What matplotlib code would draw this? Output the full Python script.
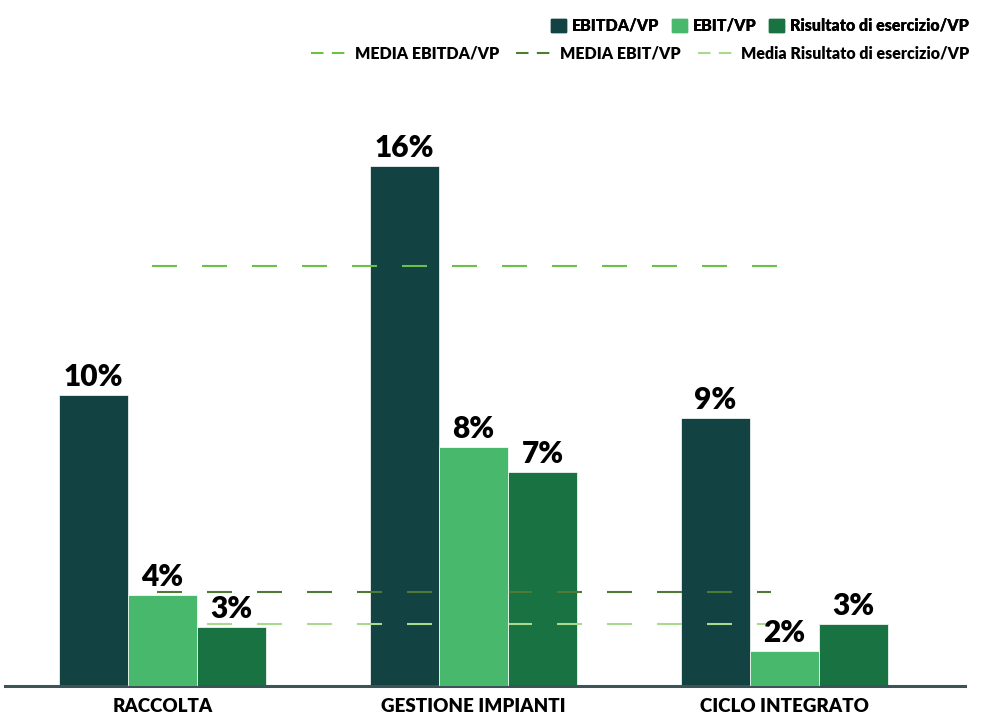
import numpy as np
import matplotlib.pyplot as plt
from matplotlib.lines import Line2D
from matplotlib.patches import Patch

categories = ['RACCOLTA', 'GESTIONE IMPIANTI', 'CICLO INTEGRATO']
ebitda = [9.76, 16.49, 9.08]
ebit = [3.88, 8.23, 2.23]
risultato = [2.94, 7.49, 3.02]
ebitda_lbl = ['10%', '16%', '9%']
ebit_lbl = ['4%', '8%', '2%']
ris_lbl = ['3%', '7%', '3%']
media_ebitda = 13.55
media_ebit = 3.96
media_ris = 3.02

c_ebitda = '#124241'
c_ebit = '#48b96c'
c_ris = '#197241'
c_m_ebitda = '#6cc04a'
c_m_ebit = '#4f7a35'
c_m_ris = '#a8d98c'

plt.rcParams['font.family'] = ['Lato', 'DejaVu Sans']
W = 'heavy'

fig = plt.figure(figsize=(9.84, 7.15), dpi=100)
ax = fig.add_axes([5/984, 29/715, 960/984, 586/715])

x = np.arange(len(categories))
w = 0.222
b1 = ax.bar(x - w, ebitda, w, color=c_ebitda, edgecolor='white', linewidth=0.5, zorder=1)
b2 = ax.bar(x, ebit, w, color=c_ebit, edgecolor='white', linewidth=0.5, zorder=3)
b3 = ax.bar(x + w, risultato, w, color=c_ris, edgecolor='white', linewidth=0.5, zorder=1)

#mean lines
ax.plot([-0.034, 2.03], [media_ebitda]*2, color=c_m_ebitda, lw=1.5, dashes=(12, 12), zorder=2)
ax.plot([-0.018, 1.956], [media_ebit]*2, color=c_m_ebit, lw=1.5, dashes=(12, 12), zorder=2)
ax.plot([-0.018, 1.95], [media_ris]*2, color=c_m_ris, lw=1.5, dashes=(12, 12), zorder=2)

for bars, lbls in [(b1, ebitda_lbl), (b2, ebit_lbl), (b3, ris_lbl)]:
    for b, t in zip(bars, lbls):
        ax.annotate(t, (b.get_x() + b.get_width()/2, b.get_height()),
                    xytext=(0, 3), textcoords='offset points',
                    ha='center', va='bottom', fontsize=21.5, fontweight=W, zorder=5)

ax.set_xlim(-0.506, 2.58)
ax.set_ylim(1.2, 1.2 + 586/34)
ax.set_xticks(x)
ax.set_xticklabels(categories, fontsize=13.5, fontweight=W)
ax.tick_params(axis='x', length=0, pad=9)
ax.set_yticks([])
for s in ['top', 'right', 'left']:
    ax.spines[s].set_visible(False)
ax.spines['bottom'].set_color('#3c5358')
ax.spines['bottom'].set_linewidth(2.2)

h1 = [Patch(color=c_ebitda), Patch(color=c_ebit), Patch(color=c_ris)]
l1 = ['EBITDA/VP', 'EBIT/VP', 'Risultato di esercizio/VP']
leg1 = fig.legend(h1, l1, loc='upper right', bbox_to_anchor=(0.9995, 0.995), ncol=3,
                  frameon=False, prop={'weight': W, 'size': 11.5},
                  handlelength=0.9, handleheight=0.9, handletextpad=0.4, columnspacing=0.8)
fig.add_artist(leg1)
h2 = [Line2D([], [], color=c_m_ebitda, lw=1.5, dashes=(6, 4)),
      Line2D([], [], color=c_m_ebit, lw=1.5, dashes=(6, 4)),
      Line2D([], [], color=c_m_ris, lw=1.5, dashes=(6, 4))]
l2 = ['MEDIA EBITDA/VP', 'MEDIA EBIT/VP', 'Media Risultato di esercizio/VP']
fig.legend(h2, l2, loc='upper right', bbox_to_anchor=(0.9995, 0.957), ncol=3,
           frameon=False, prop={'weight': W, 'size': 11.5},
           handlelength=2.2, handletextpad=0.5, columnspacing=1.1)

fig.savefig('out.png', dpi=100)
